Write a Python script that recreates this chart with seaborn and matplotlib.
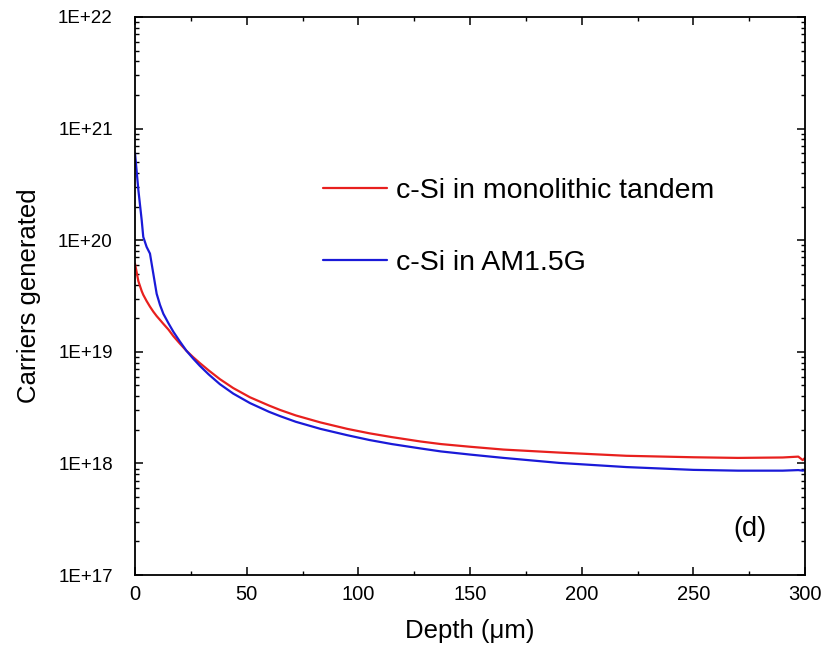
import numpy as np
import pandas as pd
import matplotlib
matplotlib.use("Agg")
import matplotlib.pyplot as plt
import seaborn as sns
from matplotlib.ticker import LogLocator, FuncFormatter, MultipleLocator, NullFormatter

depth = [0, 1.5, 3.0, 3.7, 5.2, 6.7, 8.2, 9.7, 11.2, 12.7, 15, 17.2, 20, 23, 26, 29,
         33, 38, 44, 51.5, 60, 65, 72, 83, 95, 105, 115, 128, 137, 150, 165, 190,
         220, 250, 270, 290, 297, 299, 300]
tandem = [6.17e19, 4.30e19, 3.50e19, 3.24e19, 2.85e19, 2.54e19, 2.29e19, 2.09e19, 1.93e19,
          1.78e19, 1.58e19, 1.38e19, 1.19e19, 1.023e19, 8.97e18, 7.94e18, 6.81e18, 5.69e18,
          4.73e18, 3.91e18, 3.30e18, 3.01e18, 2.69e18, 2.33e18, 2.04e18, 1.86e18, 1.72e18,
          1.57e18, 1.49e18, 1.41e18, 1.33e18, 1.25e18, 1.17e18, 1.135e18, 1.12e18,
          1.13e18, 1.15e18, 1.07e18, 1.12e18]
am15g = [6.03e20, 2.82e20, 1.51e20, 1.07e20, 8.71e19, 7.59e19, 5.01e19, 3.31e19, 2.63e19,
         2.19e19, 1.80e19, 1.51e19, 1.245e19, 1.023e19, 8.71e18, 7.50e18, 6.27e18, 5.13e18,
         4.22e18, 3.47e18, 2.90e18, 2.65e18, 2.36e18, 2.04e18, 1.79e18, 1.62e18, 1.49e18,
         1.36e18, 1.28e18, 1.20e18, 1.12e18, 1.01e18, 9.27e17, 8.75e17, 8.61e17,
         8.61e17, 8.71e17, 8.61e17, 8.71e17]
series_names = ["c-Si in monolithic tandem", "c-Si in AM1.5G"]
x_ticks = [0, 50, 100, 150, 200, 250, 300]

df = pd.concat([
    pd.DataFrame({"Depth": depth, "Carriers": tandem, "Series": series_names[0]}),
    pd.DataFrame({"Depth": depth, "Carriers": am15g, "Series": series_names[1]}),
])

sns.set_theme(style="ticks")
plt.rcParams["font.family"] = ["Liberation Sans", "DejaVu Sans"]
for k in ["text.color", "axes.labelcolor", "xtick.color", "ytick.color", "axes.edgecolor"]:
    plt.rcParams[k] = "black"

fig = plt.figure(figsize=(8.39, 6.53), dpi=100)
ax = fig.add_axes([135/839, 1 - 575/653, 670/839, 558/653])

palette = {series_names[0]: "#e8201e", series_names[1]: "#1a1ad8"}
sns.lineplot(data=df, x="Depth", y="Carriers", hue="Series", palette=palette,
             estimator=None, sort=False, linewidth=1.6, ax=ax)

ax.set_yscale("log")
ax.set_xlim(0, 300)
ax.set_ylim(1e17, 1e22)
ax.set_xticks(x_ticks)
ax.xaxis.set_minor_locator(MultipleLocator(25))
ax.yaxis.set_major_locator(LogLocator(base=10, numticks=10))
ax.yaxis.set_minor_locator(LogLocator(base=10, subs=np.arange(2, 10), numticks=20))
ax.yaxis.set_major_formatter(FuncFormatter(lambda v, p: "1E+%d" % int(round(np.log10(v)))))
ax.yaxis.set_minor_formatter(NullFormatter())

for s in ax.spines.values():
    s.set_linewidth(1.3)
    s.set_color("black")
ax.tick_params(which="both", direction="in", top=True, right=True, colors="black")
ax.tick_params(which="major", length=6, width=1.1)
ax.tick_params(which="minor", length=3, width=1.0)
ax.tick_params(axis="y", which="major", labelsize=13.5, pad=16)
ax.tick_params(axis="x", which="major", labelsize=14.5, pad=7)

ax.set_xlabel("Depth (\u03bcm)", fontsize=18.5)
ax.set_ylabel("Carriers generated", fontsize=18.5)
ax.xaxis.set_label_coords(0.5, (575 - 619) / 558)
ax.yaxis.set_label_coords((41 - 135) / 670, 0.5)

leg = ax.legend(frameon=False, loc="upper left", bbox_to_anchor=((323-135)/670, 0.711),
                fontsize=20.5, handlelength=2.25, handletextpad=0.3, labelspacing=1.6,
                borderpad=0, borderaxespad=0)
for t in leg.get_texts():
    t.set_color("black")

ax.text(275.4, 2.6e17, "(d)", fontsize=19.5, ha="center", va="center")

fig.savefig("out.png", dpi=100)
